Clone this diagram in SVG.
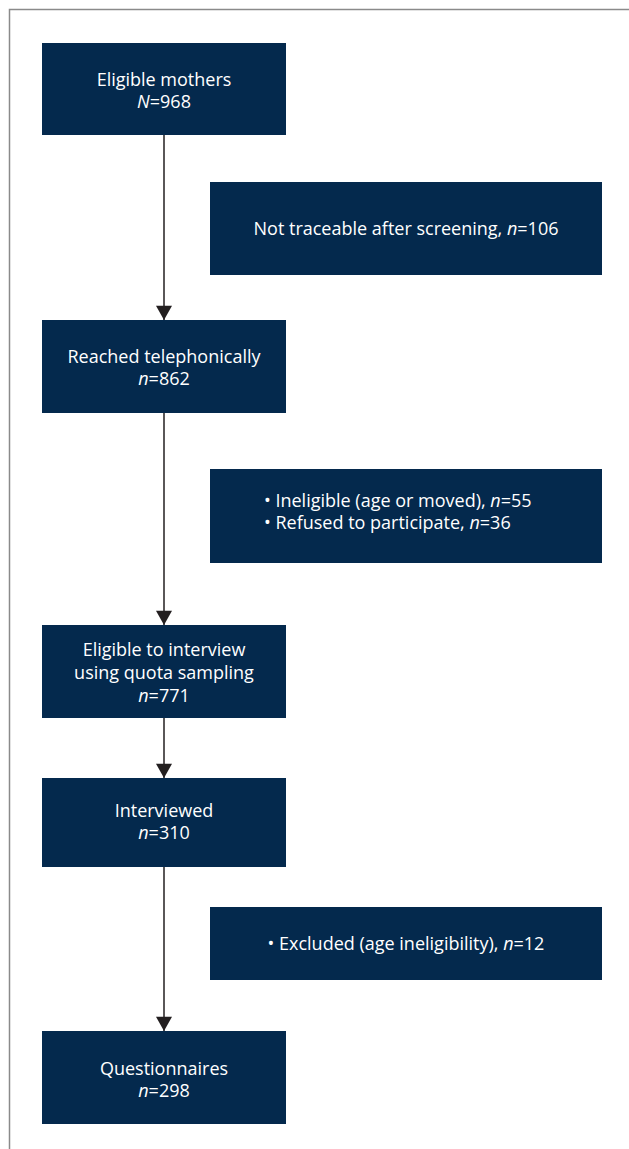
<svg xmlns="http://www.w3.org/2000/svg" width="629" height="1149" viewBox="0 0 629 1149">
<style>
.box{fill:#04294d}
.t{font-family:"Open Sans","Noto Sans","Liberation Sans",sans-serif;font-size:18px;fill:#ffffff;text-anchor:middle}
.l{text-anchor:start}
.i{font-style:italic}
.c{stroke:#231f20;stroke-width:1.5;fill:none}
</style>
<defs>
<marker id="ah" viewBox="0 0 16 18" refX="16" refY="9" markerWidth="18" markerHeight="16" markerUnits="userSpaceOnUse" orient="auto">
<path d="M0,0 L16,9 L0,18 Z" fill="#231f20"/>
</marker>
</defs>
<path d="M9.5,1149 V9.5 H629" fill="none" stroke="#8a8a8a" stroke-width="1.5"/>
<g id="connectors">
<line class="c" x1="164" y1="135" x2="164" y2="320" marker-end="url(#ah)"/>
<line class="c" x1="164" y1="413" x2="164" y2="625" marker-end="url(#ah)"/>
<line class="c" x1="164" y1="718" x2="164" y2="778" marker-end="url(#ah)"/>
<line class="c" x1="164" y1="867" x2="164" y2="1031" marker-end="url(#ah)"/>
</g>
<g id="n1">
<rect class="box" x="42" y="43" width="244" height="92"/>
<text class="t" x="164" y="86">Eligible mothers</text>
<text class="t" x="164" y="108"><tspan class="i">N</tspan>=968</text>
</g>
<g id="s1">
<rect class="box" x="210" y="182" width="392" height="93"/>
<text class="t" x="406" y="235">Not traceable after screening, <tspan class="i">n</tspan>=106</text>
</g>
<g id="n2">
<rect class="box" x="42" y="320" width="244" height="93"/>
<text class="t" x="164" y="363">Reached telephonically</text>
<text class="t" x="164" y="385"><tspan class="i">n</tspan>=862</text>
</g>
<g id="s2">
<rect class="box" x="210" y="469" width="392" height="94"/>
<text class="t l" x="264" y="507">• Ineligible (age or moved), <tspan class="i">n</tspan>=55</text>
<text class="t l" x="264" y="529">• Refused to participate, <tspan class="i">n</tspan>=36</text>
</g>
<g id="n3">
<rect class="box" x="42" y="625" width="244" height="93"/>
<text class="t" x="164" y="656">Eligible to interview</text>
<text class="t" x="164" y="679">using quota sampling</text>
<text class="t" x="164" y="702"><tspan class="i">n</tspan>=771</text>
</g>
<g id="n4">
<rect class="box" x="42" y="778" width="244" height="89"/>
<text class="t" x="164" y="817">Interviewed</text>
<text class="t" x="164" y="839"><tspan class="i">n</tspan>=310</text>
</g>
<g id="s3">
<rect class="box" x="210" y="907" width="392" height="73"/>
<text class="t" x="406" y="950">• Excluded (age ineligibility), <tspan class="i">n</tspan>=12</text>
</g>
<g id="n5">
<rect class="box" x="42" y="1031" width="244" height="93"/>
<text class="t" x="164" y="1075">Questionnaires</text>
<text class="t" x="164" y="1097"><tspan class="i">n</tspan>=298</text>
</g>
</svg>
